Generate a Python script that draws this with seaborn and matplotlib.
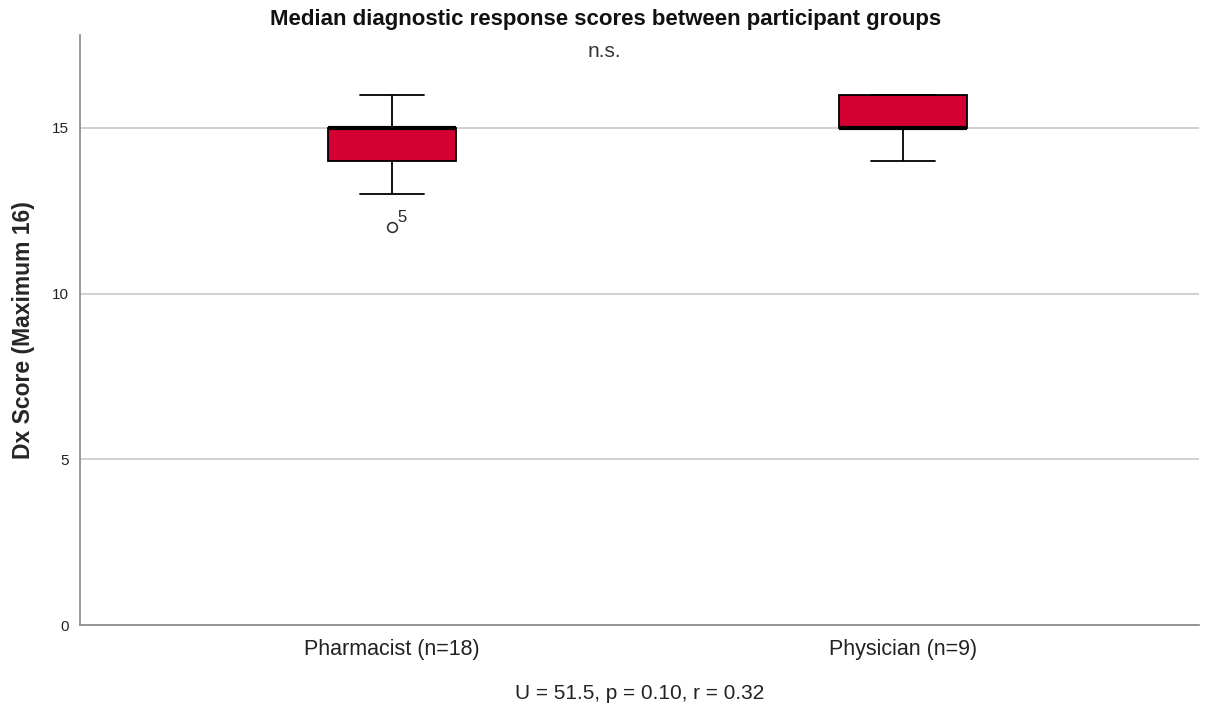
import seaborn as sns
import matplotlib.pyplot as plt
import pandas as pd

# raw scores (quartiles / whiskers / outlier)
pharmacist_scores = [12, 13, 13, 14, 14, 14, 14, 14, 15, 15, 15, 15, 15, 15, 16, 16, 16, 16]
physician_scores = [14, 15, 15, 15, 15, 16, 16, 16, 16]
group_labels = ["Pharmacist (n=18)", "Physician (n=9)"]
outlier_case = "5"

df = pd.DataFrame({
    "group": [group_labels[0]] * len(pharmacist_scores) + [group_labels[1]] * len(physician_scores),
    "score": pharmacist_scores + physician_scores,
})

sns.set_style("white")
plt.rcParams["font.family"] = ["Liberation Sans", "DejaVu Sans"]

fig = plt.figure(figsize=(12.19, 7.12), dpi=100)
ax = fig.add_axes([0.0656, 0.122, 0.9184, 0.829])

ax.set_axisbelow(True)
ax.grid(axis="y", color="#c8c8c8", linewidth=1.2)

sns.boxplot(data=df, x="group", y="score", ax=ax, color="#d50032", width=0.25,
            linecolor="black", linewidth=1.3, saturation=1,
            medianprops=dict(linewidth=3, color="black"),
            flierprops=dict(marker="o", markerfacecolor="white", markeredgecolor="#333333",
                            markersize=7, markeredgewidth=1.2))

# label the outlier with its case number
ax.annotate(outlier_case, xy=(0, min(pharmacist_scores)), xytext=(4, 4),
            textcoords="offset points", fontsize=12, color="#222222")

ax.set_xlim(-0.61, 1.58)
ax.set_ylim(0, 17.8)
ax.set_yticks([0, 5, 10, 15])
ax.tick_params(axis="both", length=0)
ax.tick_params(axis="y", labelsize=11, pad=8, labelcolor="#222222")
ax.tick_params(axis="x", labelsize=15.5, pad=10, labelcolor="#222222")

for side in ["top", "right"]:
    ax.spines[side].set_visible(False)
for side in ["left", "bottom"]:
    ax.spines[side].set_color("#888888")
    ax.spines[side].set_linewidth(1.2)

ax.set_xlabel("U = 51.5, p = 0.10, r = 0.32", fontsize=15, labelpad=17, color="#222222")
ax.set_ylabel("Dx Score (Maximum 16)", fontsize=16.5, fontweight="bold", labelpad=12)

fig.text(0.497, 0.972, "Median diagnostic response scores between participant groups",
         ha="center", va="center", fontsize=16, fontweight="bold", color="#111111")
fig.text(0.496, 0.928, "n.s.", ha="center", va="center", fontsize=15, color="#333333")

plt.savefig("out.png", dpi=100)
